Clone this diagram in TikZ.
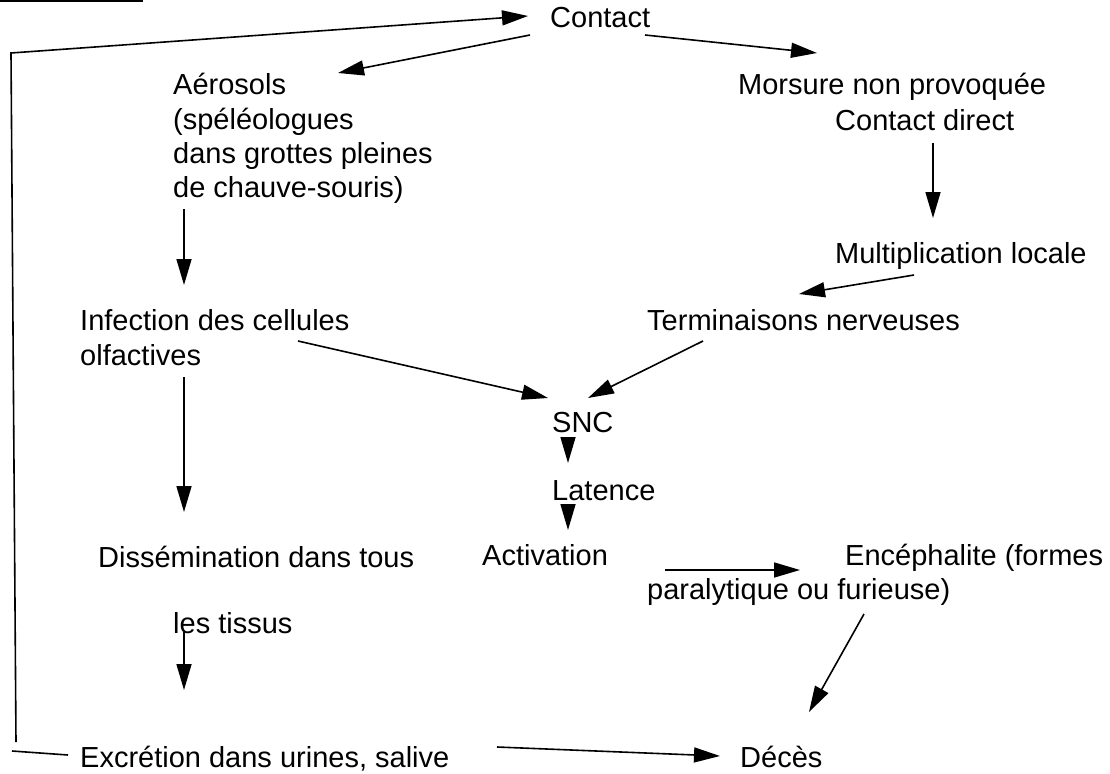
\documentclass[tikz,border=0pt]{standalone}
\usepackage{fontspec}
\setmainfont{Liberation Sans}
\usetikzlibrary{arrows.meta}
\begin{document}
\begin{tikzpicture}[x=1pt,y=-1pt,
  txt/.style={inner sep=0pt, anchor=base west, font=\fontsize{29}{34}\selectfont},
  ln/.style={line width=1.6pt},
  arr/.style={line width=1.6pt, -{Triangle[length=26pt,width=15pt]}}]
\useasboundingbox (0,0) rectangle (1110,773);
\fill (0,0) rectangle (143,2.5);
% texts
\node[txt] (contact) at (550,28) {Contact};
\node[txt] (aer1) at (173,95) {Aérosols};
\node[txt] (aer2) at (173,129) {(spéléologues};
\node[txt] (aer3) at (173,163) {dans grottes pleines};
\node[txt] (aer4) at (173,197) {de chauve-souris)};
\node[txt] (mors) at (738,95) {Morsure non provoquée};
\node[txt] (cdir) at (835,130) {Contact direct};
\node[txt] (mult) at (835,263) {Multiplication locale};
\node[txt] (inf1) at (80,330) {Infection des cellules};
\node[txt] (inf2) at (80,365) {olfactives};
\node[txt] (term) at (647,330) {Terminaisons nerveuses};
\node[txt] (snc) at (552,432) {SNC};
\node[txt] (lat) at (552,500) {Latence};
\node[txt] (diss) at (98,567) {Dissémination dans tous};
\node[txt] (act) at (482,565) {Activation};
\node[txt] (enc1) at (845,565) {Encéphalite (formes};
\node[txt] (enc2) at (647,599) {paralytique ou furieuse)};
\node[txt] (tis) at (173,633) {les tissus};
\node[txt] (exc) at (80,767) {Excrétion dans urines, salive};
\node[txt] (dec) at (740,767) {Décès};
% connector end points
\coordinate (l0) at (68,755);
\coordinate (l1) at (12,751);
\coordinate (l2) at (16,742);
\coordinate (l3) at (11,53);
\coordinate (l4) at (528,16);
\coordinate (ca0) at (530,35);
\coordinate (ca1) at (338,73);
\coordinate (cm0) at (645,35);
\coordinate (cm1) at (817,53);
\coordinate (cd0) at (933,143);
\coordinate (cd1) at (933,218);
\coordinate (mt0) at (914,275);
\coordinate (mt1) at (799,294);
\coordinate (ai0) at (184,209);
\coordinate (ai1) at (184,285);
\coordinate (is0) at (298,341);
\coordinate (is1) at (548,398);
\coordinate (ts0) at (703,341);
\coordinate (ts1) at (588,398);
\coordinate (sl0) at (568,437);
\coordinate (sl1) at (568,463);
\coordinate (la0) at (568,504);
\coordinate (la1) at (568,530);
\coordinate (id0) at (184,377);
\coordinate (id1) at (184,512);
\coordinate (ae0) at (665,570);
\coordinate (ae1) at (800,570);
\coordinate (te0) at (184,632);
\coordinate (te1) at (184,690);
\coordinate (ed0) at (864,614);
\coordinate (ed1) at (809,712);
\coordinate (xd0) at (497,747);
\coordinate (xd1) at (720,756);
% connectors
\draw[ln] (l0) -- (l1);
\draw[arr] (l2) -- (l3) -- (l4);
\draw[arr] (ca0) -- (ca1);
\draw[arr] (cm0) -- (cm1);
\draw[arr] (cd0) -- (cd1);
\draw[arr] (mt0) -- (mt1);
\draw[arr] (ai0) -- (ai1);
\draw[arr] (is0) -- (is1);
\draw[arr] (ts0) -- (ts1);
\draw[arr] (sl0) -- (sl1);
\draw[arr] (la0) -- (la1);
\draw[arr] (id0) -- (id1);
\draw[arr] (ae0) -- (ae1);
\draw[arr] (te0) -- (te1);
\draw[arr] (ed0) -- (ed1);
\draw[arr] (xd0) -- (xd1);
\end{tikzpicture}
\end{document}
